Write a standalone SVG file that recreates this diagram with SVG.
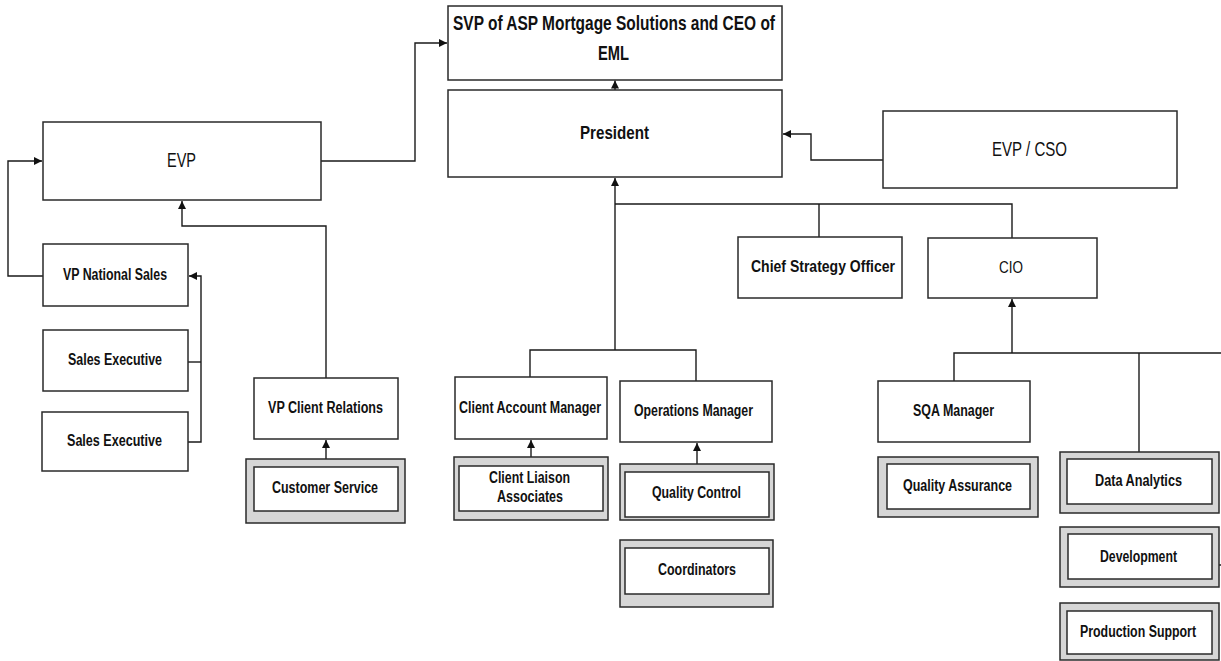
<svg xmlns="http://www.w3.org/2000/svg" width="1221" height="661" viewBox="0 0 1221 661">
<style>
.box{fill:#fff;stroke:#2a2a2a;stroke-width:1.5}
.outer{fill:#d6d6d6;stroke:#2a2a2a;stroke-width:1.5}
.inner{fill:#fff;stroke:#2a2a2a;stroke-width:1.5}
.c{fill:none;stroke:#1a1a1a;stroke-width:1.4}
.a{marker-end:url(#arr)}
text{font-family:"Liberation Sans Narrow","Liberation Sans",Arial,sans-serif;font-weight:bold;font-size:16px;fill:#111;text-anchor:middle}
.big{font-size:20px}
.mid{font-size:18px}
</style>
<defs>
<marker id="arr" markerUnits="userSpaceOnUse" markerWidth="9" markerHeight="8" refX="8" refY="4" orient="auto">
<path d="M0,0 L8,4 L0,8 Z" fill="#111"/>
</marker>
</defs>
<rect width="1221" height="661" fill="#fff"/>
<g id="connectors">
<path class="c a" d="M321,161 H415 V43 H447"/>
<path class="c a" d="M615,90 V80.5"/>
<path class="c a" d="M883,160 H811 V134 H783"/>
<path class="c a" d="M615,350 V178"/>
<path class="c" d="M615,204 H1012 V238"/>
<path class="c" d="M819,204 V237"/>
<path class="c" d="M530,377 V350 H696 V381"/>
<path class="c a" d="M43,276 H8 V161 H42"/>
<path class="c a" d="M326,378 V226 H182 V201"/>
<path class="c" d="M188,362 H201"/>
<path class="c a" d="M188,442 H201 V276 H189"/>
<path class="c a" d="M326,459 V440"/>
<path class="c a" d="M531,457 V440"/>
<path class="c a" d="M697,464 V443"/>
<path class="c a" d="M1012,353 V299"/>
<path class="c" d="M954,381 V353 H1221"/>
<path class="c" d="M1139,353 V452"/>
<path class="c" d="M1219,565 H1221"/>
</g>
<g id="svp"><rect class="box" x="448" y="6" width="334" height="74"/>
<text class="big" x="614" y="29.5" textLength="322" lengthAdjust="spacingAndGlyphs">SVP of ASP Mortgage Solutions and CEO of</text>
<text class="big" x="613.5" y="60" textLength="31" lengthAdjust="spacingAndGlyphs">EML</text></g>
<g id="president"><rect class="box" x="448" y="90" width="334" height="87"/>
<text class="mid" x="614.5" y="139" textLength="69" lengthAdjust="spacingAndGlyphs">President</text></g>
<g id="evp"><rect class="box" x="43" y="122" width="278" height="78"/>
<text class="big" x="181.5" y="167" textLength="29" lengthAdjust="spacingAndGlyphs" style="font-weight:normal;font-size:21px">EVP</text></g>
<g id="evp-cso"><rect class="box" x="883" y="111" width="294" height="77"/>
<text x="1029.5" y="156" textLength="75" lengthAdjust="spacingAndGlyphs" style="font-weight:normal;font-size:20px">EVP / CSO</text></g>
<g id="cso"><rect class="box" x="738" y="237" width="164" height="61"/>
<text x="823" y="272" textLength="144" lengthAdjust="spacingAndGlyphs" style="font-size:17px">Chief Strategy Officer</text></g>
<g id="cio"><rect class="box" x="928" y="238" width="169" height="60"/>
<text x="1011" y="273" textLength="24" lengthAdjust="spacingAndGlyphs" style="font-weight:normal;font-size:17px">CIO</text></g>
<g id="vp-national-sales"><rect class="box" x="43" y="244" width="145" height="62"/>
<text x="115" y="280" textLength="104" lengthAdjust="spacingAndGlyphs">VP National Sales</text></g>
<g id="sales-exec-1"><rect class="box" x="43" y="330" width="145" height="61"/>
<text x="115" y="365" textLength="94" lengthAdjust="spacingAndGlyphs">Sales Executive</text></g>
<g id="sales-exec-2"><rect class="box" x="42" y="412" width="146" height="59"/>
<text x="114.5" y="446" textLength="95" lengthAdjust="spacingAndGlyphs">Sales Executive</text></g>
<g id="vp-client-relations"><rect class="box" x="254" y="378" width="144" height="61"/>
<text x="325.5" y="413" textLength="115" lengthAdjust="spacingAndGlyphs">VP Client Relations</text></g>
<g id="customer-service"><rect class="outer" x="246" y="459" width="159" height="64"/><rect class="inner" x="254" y="467" width="144" height="44"/>
<text x="325" y="493" textLength="106" lengthAdjust="spacingAndGlyphs">Customer Service</text></g>
<g id="client-account-manager"><rect class="box" x="455" y="377" width="152" height="62"/>
<text x="530" y="413" textLength="142" lengthAdjust="spacingAndGlyphs">Client Account Manager</text></g>
<g id="operations-manager"><rect class="box" x="620" y="381" width="152" height="61"/>
<text x="693.5" y="416" textLength="119" lengthAdjust="spacingAndGlyphs">Operations Manager</text></g>
<g id="client-liaison"><rect class="outer" x="454" y="457" width="154" height="63"/><rect class="inner" x="459" y="466" width="144" height="45"/>
<text x="529.5" y="483" textLength="81" lengthAdjust="spacingAndGlyphs">Client Liaison</text>
<text x="530" y="502" textLength="66" lengthAdjust="spacingAndGlyphs">Associates</text></g>
<g id="quality-control"><rect class="outer" x="620" y="464" width="154" height="56"/><rect class="inner" x="625" y="472" width="144" height="45"/>
<text x="696.5" y="498" textLength="89" lengthAdjust="spacingAndGlyphs">Quality Control</text></g>
<g id="coordinators"><rect class="outer" x="620" y="540" width="153" height="67"/><rect class="inner" x="625" y="548" width="144" height="46"/>
<text x="697" y="575" textLength="78" lengthAdjust="spacingAndGlyphs">Coordinators</text></g>
<g id="sqa-manager"><rect class="box" x="878" y="381" width="152" height="61"/>
<text x="953.5" y="416" textLength="81" lengthAdjust="spacingAndGlyphs">SQA Manager</text></g>
<g id="quality-assurance"><rect class="outer" x="878" y="457" width="160" height="60"/><rect class="inner" x="887" y="464" width="143" height="45"/>
<text x="957.5" y="491" textLength="109" lengthAdjust="spacingAndGlyphs">Quality Assurance</text></g>
<g id="data-analytics"><rect class="outer" x="1060" y="452" width="159" height="61"/><rect class="inner" x="1067" y="459" width="145" height="45"/>
<text x="1138.5" y="486" textLength="87" lengthAdjust="spacingAndGlyphs">Data Analytics</text></g>
<g id="development"><rect class="outer" x="1060" y="527" width="159" height="60"/><rect class="inner" x="1068" y="534" width="144" height="45"/>
<text x="1138.5" y="562" textLength="77" lengthAdjust="spacingAndGlyphs">Development</text></g>
<g id="production-support"><rect class="outer" x="1060" y="603" width="159" height="57"/><rect class="inner" x="1067" y="611" width="145" height="43"/>
<text x="1138" y="637" textLength="116" lengthAdjust="spacingAndGlyphs">Production Support</text></g>
</svg>
